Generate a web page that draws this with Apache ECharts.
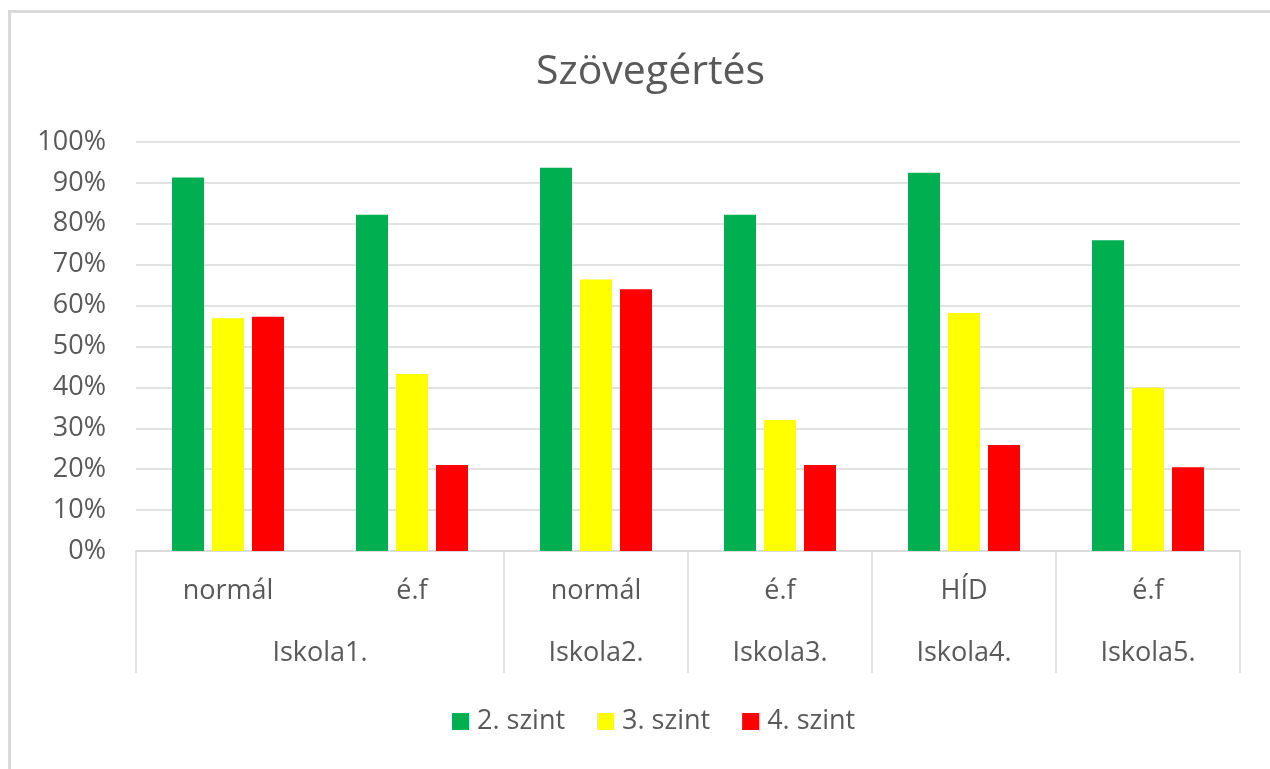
<!DOCTYPE html>
<html>
<head>
<meta charset="utf-8">
<title>Szövegértés</title>
<script src="https://cdn.jsdelivr.net/npm/echarts@6/dist/echarts.min.js"></script>
<style>
    html, body { margin: 0; padding: 0; background: #fff; overflow: hidden; }
    #frame { position: absolute; left: 8px; top: 10px; width: 1300px; height: 800px; border: 3px solid #d9d9d9; box-sizing: border-box; }
    #main { position: absolute; left: 0; top: 0; width: 1270px; height: 769px; }
</style>
</head>
<body>
<div id="frame"></div>
<div id="main"></div>
<script>
// adatok
var subCategories = ['normál', 'é.f', 'normál', 'é.f', 'HÍD', 'é.f'];
var schools = ['Iskola1.', 'Iskola1.', 'Iskola2.', 'Iskola3.', 'Iskola4.', 'Iskola5.'];
var seriesNames = ['2. szint', '3. szint', '4. szint'];
var szint2 = [0.913, 0.822, 0.937, 0.822, 0.925, 0.760];
var szint3 = [0.569, 0.433, 0.664, 0.320, 0.582, 0.399];
var szint4 = [0.573, 0.210, 0.640, 0.210, 0.259, 0.205];
var colors = ['#00b050', '#ffff00', '#ff0000'];
var yTicks = [0, 0.1, 0.2, 0.3, 0.4, 0.5, 0.6, 0.7, 0.8, 0.9, 1];

// iskolák csoportosítása (összefüggő szakaszok)
var groups = [];
schools.forEach(function(s, i) {
    var last = groups[groups.length - 1];
    if (last && last.name === s) {
        last.end = i + 1;
    } else {
        groups.push({ name: s, start: i, end: i + 1 });
    }
});
var groupTicks = [0].concat(groups.map(function(g) { return g.end; }));
var groupCenters = groups.map(function(g) { return (g.start + g.end) / 2; });

var textColor = '#595959';
var lineColor = '#d9d9d9';
var font = '"Open Sans", sans-serif';

var myChart = echarts.init(document.querySelector('#main'));
var option = {
    animation: false,
    title: {
        text: 'Szövegértés',
        left: 531,
        top: 47,
        textStyle: { color: textColor, fontSize: 41, fontWeight: 'normal', fontFamily: font }
    },
    legend: {
        data: seriesNames,
        bottom: 29,
        left: 447,
        icon: 'rect',
        itemWidth: 17,
        itemHeight: 17,
        itemGap: 32,
        textStyle: { color: textColor, fontSize: 27, fontFamily: font, padding: [0, 0, 0, 3] }
    },
    grid: {
        left: 136,
        right: 30,
        top: 142,
        bottom: 218
    },
    xAxis: [{
        type: 'category',
        data: subCategories,
        position: 'bottom',
        axisLine: { lineStyle: { color: lineColor, width: 1.5 } },
        axisTick: { show: false },
        axisLabel: { color: textColor, fontSize: 27, fontFamily: font, margin: 27, interval: 0 }
    }, {
        type: 'value',
        min: 0,
        max: subCategories.length,
        position: 'bottom',
        offset: 0,
        axisLine: { show: false },
        splitLine: { show: false },
        axisTick: {
            show: true,
            length: 122,
            customValues: groupTicks,
            lineStyle: { color: lineColor, width: 1.5 }
        },
        axisLabel: {
            customValues: groupCenters,
            margin: 89,
            color: textColor,
            fontSize: 27,
            fontFamily: font,
            formatter: function(v) {
                for (var i = 0; i < groups.length; i++) {
                    if (Math.abs(groupCenters[i] - v) < 1e-6) return groups[i].name;
                }
                return '';
            }
        }
    }],
    yAxis: {
        type: 'value',
        min: 0,
        max: 1,
        interval: 0.1,
        axisLine: { show: false },
        axisTick: { show: false },
        splitLine: { lineStyle: { color: lineColor, width: 1.5 } },
        axisLabel: {
            color: textColor,
            fontSize: 27,
            fontFamily: font,
            margin: 30,
            customValues: yTicks,
            formatter: function(v) { return Math.round(v * 100) + '%'; }
        }
    },
    series: [{
        name: seriesNames[0],
        type: 'bar',
        data: szint2,
        barWidth: 32,
        barGap: '25%',
        itemStyle: { color: colors[0] }
    }, {
        name: seriesNames[1],
        type: 'bar',
        data: szint3,
        barWidth: 32,
        barGap: '25%',
        itemStyle: { color: colors[1] }
    }, {
        name: seriesNames[2],
        type: 'bar',
        data: szint4,
        barWidth: 32,
        barGap: '25%',
        itemStyle: { color: colors[2] }
    }]
};
myChart.setOption(option);
</script>
</body>
</html>
